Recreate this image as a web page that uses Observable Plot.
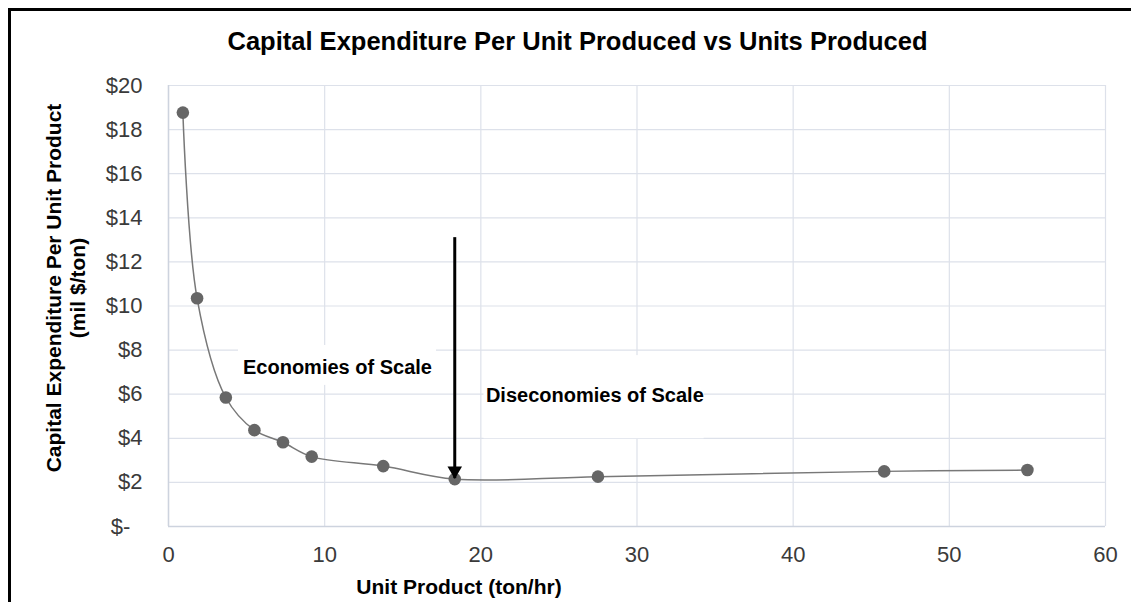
<!DOCTYPE html>
<html>
<head>
<meta charset="utf-8">
<script src="https://cdn.jsdelivr.net/npm/d3@7"></script>
<script src="https://cdn.jsdelivr.net/npm/@observablehq/plot@0.6"></script>
<style>
  html, body { margin: 0; padding: 0; background: #fff; }
  #wrap { position: relative; width: 1131px; height: 602px; overflow: hidden; background: #fff; }
  #borderTop { position: absolute; left: 8px; top: 8px; width: 1123px; height: 3px; background: #000; }
  #borderLeft { position: absolute; left: 8px; top: 8px; width: 3px; height: 594px; background: #000; }
  #title { position: absolute; left: 0; top: 0; width: 1155px; height: 60px; line-height: 82px;
           text-align: center; font-family: "Liberation Sans", Arial, sans-serif; font-weight: bold; font-size: 25.5px; color: #000; }
  #chart { position: absolute; left: 0; top: 60px; }
</style>
</head>
<body>
<div id="wrap">
  <div id="title">Capital Expenditure Per Unit Produced vs Units Produced</div>
  <div id="chart"></div>
  <div id="borderTop"></div>
  <div id="borderLeft"></div>
</div>
<script>
// Data
const unitsProduced = [0.92, 1.83, 3.67, 5.5, 7.33, 9.17, 13.75, 18.33, 27.5, 45.83, 55];
const capexPerUnit  = [18.77, 10.35, 5.85, 4.37, 3.82, 3.17, 2.74, 2.15, 2.26, 2.5, 2.56];

const xTicks = [0, 10, 20, 30, 40, 50, 60];
const yTicks = [0, 2, 4, 6, 8, 10, 12, 14, 16, 18, 20];

const annotationLabels = ["Economies of Scale", "Diseconomies of Scale"];
const annotationX = [10.82, 27.3];
const annotationY = [7.2, 5.92];
const boxX1 = [4.48, 20.2];
const boxX2 = [17.16, 34.3];
const boxY1 = [6.4, 3.98];
const boxY2 = [8.21, 7.75];

const arrowX = [18.33];
const arrowTop = [13.1];
const arrowBottom = [2.17];

const yLabel = "Capital Expenditure Per Unit Product\n(mil $/ton)";
const xLabel = "Unit Product (ton/hr)";

const points = unitsProduced.map((x, i) => ({x, y: capexPerUnit[i]}));
const boxes = annotationLabels.map((t, i) => ({x1: boxX1[i], x2: boxX2[i], y1: boxY1[i], y2: boxY2[i]}));
const notes = annotationLabels.map((t, i) => ({text: t, x: annotationX[i], y: annotationY[i]}));
const arrows = arrowX.map((x, i) => ({x, y1: arrowTop[i], y2: arrowBottom[i]}));

const grid = "#dde1ea";

const chart = Plot.plot({
  width: 1131,
  height: 542,
  marginLeft: 168,
  marginRight: 26,
  marginTop: 25,
  marginBottom: 76,
  style: {fontFamily: "Liberation Sans, Arial, sans-serif", fontSize: "22px", color: "#404040", background: "#fff"},
  x: {domain: [0, 60]},
  y: {domain: [0, 20]},
  marks: [
    Plot.gridX(xTicks, {stroke: grid, strokeOpacity: 1, strokeWidth: 1.2}),
    Plot.gridY(yTicks, {stroke: grid, strokeOpacity: 1, strokeWidth: 1.2}),
    Plot.ruleX([0], {stroke: "#cdd3de", strokeWidth: 1.5}),
    Plot.ruleY([0], {stroke: "#cdd3de", strokeWidth: 1.5}),
    Plot.rect(boxes, {x1: "x1", x2: "x2", y1: "y1", y2: "y2", fill: "#fff"}),
    Plot.axisX(xTicks, {tickSize: 0, tickPadding: 20, fontSize: 22, label: null, fill: "#3a3a3a"}),
    Plot.axisY(yTicks, {tickSize: 0, tickPadding: 26, fontSize: 22, label: null, fill: "#3a3a3a",
      tickFormat: d => d === 0 ? "$-\u00a0\u00a0" : "$" + d}),
    Plot.text([yLabel], {frameAnchor: "left", textAnchor: "middle", lineAnchor: "middle", rotate: -90,
      dx: -103.5, dy: -18, fontWeight: "bold", fontSize: 21, lineHeight: 1.19, fill: "#000"}),
    Plot.text([xLabel], {frameAnchor: "bottom", textAnchor: "middle", lineAnchor: "middle",
      dx: -178, dy: 61, fontWeight: "bold", fontSize: 21, fill: "#000"}),
    Plot.line(points, {x: "x", y: "y", curve: "catmull-rom", stroke: "#787878", strokeWidth: 1.5}),
    Plot.dot(points, {x: "x", y: "y", r: 6.3, fill: "#666666", stroke: "none"}),
    Plot.text(notes, {x: "x", y: "y", text: "text", fontWeight: "bold", fontSize: 20, fill: "#000", textAnchor: "middle"}),
    Plot.ruleX(arrows, {x: "x", y1: "y1", y2: "y2", stroke: "#000", strokeWidth: 3}),
    Plot.dot(arrows, {x: "x", y: "y2", symbol: "triangle", rotate: 180, r: 5.4, dy: -8, fill: "#000", stroke: "none"})
  ]
});
document.getElementById("chart").appendChild(chart);
</script>
</body>
</html>
